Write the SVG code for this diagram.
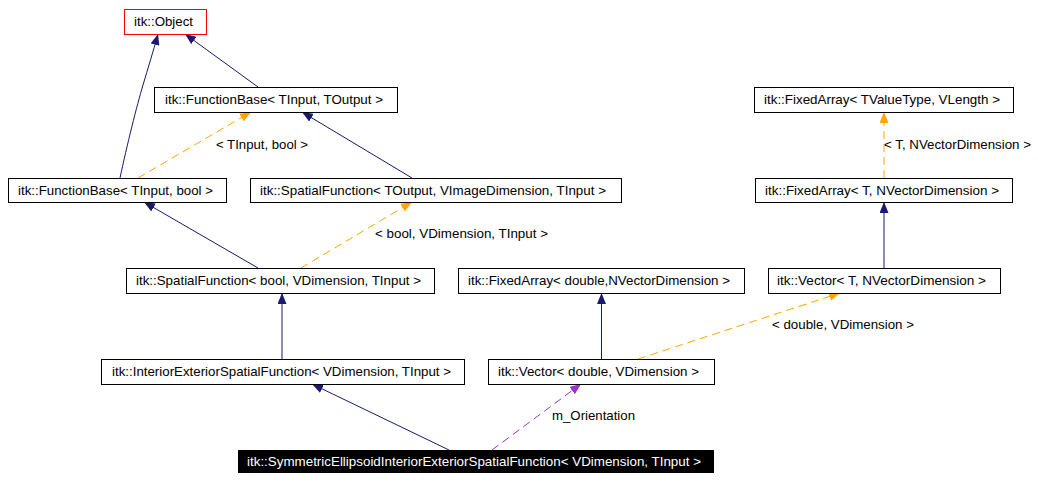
<svg xmlns="http://www.w3.org/2000/svg" width="1038" height="482" viewBox="0 0 1038 482">
<defs>
<style>
.n{fill:#fff;stroke:#000;stroke-width:1}
.t{font-family:"Liberation Sans",Arial,sans-serif;font-size:13px;fill:#000}
.e{fill:none;stroke:#191970;stroke-width:1}
.o{fill:none;stroke:#ffa500;stroke-width:1;stroke-dasharray:8,5}
.p{fill:none;stroke:#9a32cd;stroke-width:1;stroke-dasharray:8,5}
</style>
<marker id="mb" viewBox="0 0 11 9" refX="11" refY="4.5" markerWidth="11" markerHeight="9" markerUnits="userSpaceOnUse" orient="auto"><path d="M0,0 L11,4.5 L0,9 z" fill="#191970"/></marker>
<marker id="mo" viewBox="0 0 11 9" refX="11" refY="4.5" markerWidth="11" markerHeight="9" markerUnits="userSpaceOnUse" orient="auto"><path d="M0,0 L11,4.5 L0,9 z" fill="#ffa500"/></marker>
<marker id="mp" viewBox="0 0 11 9" refX="11" refY="4.5" markerWidth="11" markerHeight="9" markerUnits="userSpaceOnUse" orient="auto"><path d="M0,0 L11,4.5 L0,9 z" fill="#9a32cd"/></marker>
</defs>
<rect width="1038" height="482" fill="#fff"/>
<g id="connectors">
<path class="e" d="M120,178 C127,145 137,105 143,85 C148,68 153,52 158,34" marker-end="url(#mb)"/>
<path class="e" d="M258,87 L185,34" marker-end="url(#mb)"/>
<path class="e" d="M412,178 L302,112" marker-end="url(#mb)"/>
<path class="o" d="M138,178 L251,112" marker-end="url(#mo)"/>
<path class="e" d="M258,268 L144,202" marker-end="url(#mb)"/>
<path class="o" d="M301,268 L412,202" marker-end="url(#mo)"/>
<path class="e" d="M282,359 L282,293" marker-end="url(#mb)"/>
<path class="e" d="M449,450 L312,384" marker-end="url(#mb)"/>
<path class="p" d="M492,450 L581,384" marker-end="url(#mp)"/>
<path class="e" d="M601.5,359 L601.5,293" marker-end="url(#mb)"/>
<path class="o" d="M638,359 L840,293" marker-end="url(#mo)"/>
<path class="e" d="M884,268 L884,202" marker-end="url(#mb)"/>
<path class="o" d="M884,178 L884,112" marker-end="url(#mo)"/>
<text class="t" x="216" y="148.5" textLength="92" lengthAdjust="spacingAndGlyphs">&lt; TInput, bool &gt;</text>
<text class="t" x="884" y="148.5" textLength="147" lengthAdjust="spacingAndGlyphs">&lt; T, NVectorDimension &gt;</text>
<text class="t" x="375" y="238" textLength="173" lengthAdjust="spacingAndGlyphs">&lt; bool, VDimension, TInput &gt;</text>
<text class="t" x="772" y="329" textLength="142" lengthAdjust="spacingAndGlyphs">&lt; double, VDimension &gt;</text>
<text class="t" x="552" y="420" textLength="83" lengthAdjust="spacingAndGlyphs">m_Orientation</text>
</g>
<g id="object">
<rect x="124.5" y="9.5" width="82" height="25" fill="#fff" stroke="#f00"/>
<text class="t" x="134" y="26" textLength="59" lengthAdjust="spacingAndGlyphs">itk::Object</text>
</g>
<g id="fb_tinput_toutput">
<rect class="n" x="154.5" y="87.5" width="243" height="25"/>
<text class="t" x="165" y="104" textLength="218" lengthAdjust="spacingAndGlyphs">itk::FunctionBase&lt; TInput, TOutput &gt;</text>
</g>
<g id="fb_tinput_bool">
<rect class="n" x="8.5" y="178.5" width="218" height="24"/>
<text class="t" x="18" y="194.5" textLength="195" lengthAdjust="spacingAndGlyphs">itk::FunctionBase&lt; TInput, bool &gt;</text>
</g>
<g id="sf_toutput">
<rect class="n" x="250.5" y="178.5" width="371" height="24"/>
<text class="t" x="260" y="194.5" textLength="346" lengthAdjust="spacingAndGlyphs">itk::SpatialFunction&lt; TOutput, VImageDimension, TInput &gt;</text>
</g>
<g id="fa_tvaluetype">
<rect class="n" x="754.5" y="87.5" width="259" height="25"/>
<text class="t" x="764" y="104" textLength="236" lengthAdjust="spacingAndGlyphs">itk::FixedArray&lt; TValueType, VLength &gt;</text>
</g>
<g id="fa_t_nvd">
<rect class="n" x="755.5" y="178.5" width="257" height="24"/>
<text class="t" x="765" y="194.5" textLength="234" lengthAdjust="spacingAndGlyphs">itk::FixedArray&lt; T, NVectorDimension &gt;</text>
</g>
<g id="sf_bool">
<rect class="n" x="126.5" y="268.5" width="308" height="25"/>
<text class="t" x="136" y="285" textLength="285" lengthAdjust="spacingAndGlyphs">itk::SpatialFunction&lt; bool, VDimension, TInput &gt;</text>
</g>
<g id="fa_double">
<rect class="n" x="458.5" y="268.5" width="286" height="25"/>
<text class="t" x="468" y="285" textLength="262" lengthAdjust="spacingAndGlyphs">itk::FixedArray&lt; double,NVectorDimension &gt;</text>
</g>
<g id="vector_t_nvd">
<rect class="n" x="768.5" y="268.5" width="232" height="25"/>
<text class="t" x="777" y="285" textLength="209" lengthAdjust="spacingAndGlyphs">itk::Vector&lt; T, NVectorDimension &gt;</text>
</g>
<g id="ie_sf">
<rect class="n" x="101.5" y="359.5" width="363" height="25"/>
<text class="t" x="112" y="376" textLength="339" lengthAdjust="spacingAndGlyphs">itk::InteriorExteriorSpatialFunction&lt; VDimension, TInput &gt;</text>
</g>
<g id="vector_double">
<rect class="n" x="488.5" y="359.5" width="226" height="25"/>
<text class="t" x="498" y="376" textLength="201" lengthAdjust="spacingAndGlyphs">itk::Vector&lt; double, VDimension &gt;</text>
</g>
<g id="symmetric">
<rect x="238" y="450" width="476" height="23" fill="#000"/>
<text class="t" x="247" y="466" textLength="454" lengthAdjust="spacingAndGlyphs" style="fill:#fff">itk::SymmetricEllipsoidInteriorExteriorSpatialFunction&lt; VDimension, TInput &gt;</text>
</g>
</svg>
